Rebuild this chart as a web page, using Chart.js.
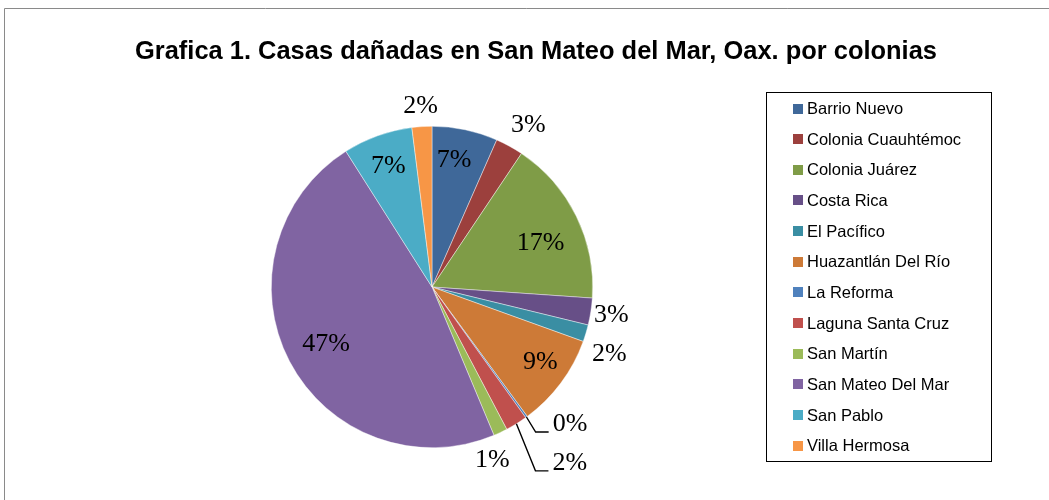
<!DOCTYPE html>
<html>
<head>
<meta charset="utf-8">
<script src="https://cdn.jsdelivr.net/npm/chart.js@4"></script>
<style>
html,body{margin:0;padding:0;background:#fff;overflow:hidden;}
canvas{display:block;}
</style>
</head>
<body>
<canvas id="c" width="1049" height="500"></canvas>
<script>
const titleText = 'Grafica 1. Casas dañadas en San Mateo del Mar, Oax. por colonias';
const categories = ['Barrio Nuevo','Colonia Cuauhtémoc','Colonia Juárez','Costa Rica','El Pacífico','Huazantlán Del Río','La Reforma','Laguna Santa Cruz','San Martín','San Mateo Del Mar','San Pablo','Villa Hermosa'];
const values = [6.6, 2.8, 16.7, 2.7, 1.7, 9.4, 0.2, 2.2, 1.4, 47.3, 7.0, 2.0];
const colors = ['#3F6899','#9C403D','#7F9C47','#674F87','#3A8EA3','#CD7A37','#4F81BD','#C0504D','#9BBB59','#8064A2','#4BACC6','#F79646'];

// label layout (radius factor, angle offset in degrees, leader line)
const labelK = [0.8, 1.17, 0.73, 1.13, 1.18, 0.82, 1.21, 1.39, 1.14, 0.75, 0.8, 1.13];
const labelOff = [-2, 2, 4, 0, 4, -2, -9.2, -6.4, 6, -1, 0, 0];
const labelLeader = [false,false,false,false,false,false,true,true,false,false,false,false];

const framePlugin = {
  id:'frame',
  beforeDraw(chart){
    const ctx = chart.ctx;
    ctx.save();
    ctx.fillStyle = '#fff';
    ctx.fillRect(0,0,chart.width,chart.height);
    ctx.strokeStyle = '#8a8a8a';
    ctx.lineWidth = 1;
    ctx.beginPath();
    ctx.moveTo(4.5, chart.height);
    ctx.lineTo(4.5, 8.5);
    ctx.lineTo(chart.width, 8.5);
    ctx.stroke();
    ctx.restore();
  }
};

// draw text at a given font size, squeezed horizontally to a target width
function drawFitted(ctx, text, x, y, font, targetW, align){
  ctx.font = font;
  const w = ctx.measureText(text).width;
  const sx = Math.min(1, targetW / w);
  ctx.save();
  ctx.translate(x, y);
  ctx.scale(sx, 1);
  ctx.textAlign = align;
  ctx.fillText(text, 0, 0);
  ctx.restore();
  return sx;
}

const titlePlugin = {
  id:'ttl',
  afterDraw(chart){
    const ctx = chart.ctx;
    ctx.save();
    ctx.fillStyle = '#000';
    ctx.textBaseline = 'alphabetic';
    drawFitted(ctx, titleText, 536, 59, 'bold 26px "Liberation Sans",Arial,sans-serif', 802, 'center');
    ctx.restore();
  }
};

const legendPlugin = {
  id:'lgd',
  afterDraw(chart){
    const ctx = chart.ctx;
    ctx.save();
    ctx.strokeStyle = '#000';
    ctx.lineWidth = 1;
    ctx.strokeRect(766.5, 92.5, 225, 369);
    const font = '16.5px "Liberation Sans",Arial,sans-serif';
    ctx.font = font;
    const longest = Math.max(...chart.data.labels.map(l => ctx.measureText(l).width));
    const sx = Math.min(1, 156 / longest);
    ctx.textBaseline = 'middle';
    const ds = chart.data.datasets[0];
    chart.data.labels.forEach((lab, i) => {
      const cy = 108.5 + i * 30.65;
      ctx.fillStyle = ds.backgroundColor[i];
      ctx.fillRect(793, Math.round(cy - 5), 10, 10);
      ctx.fillStyle = '#000';
      ctx.save();
      ctx.translate(807, cy + 1);
      ctx.scale(sx, 1);
      ctx.textAlign = 'left';
      ctx.font = font;
      ctx.fillText(lab, 0, 0);
      ctx.restore();
    });
    ctx.restore();
  }
};

const labelPlugin = {
  id:'pct',
  afterDatasetsDraw(chart){
    const ctx = chart.ctx;
    const meta = chart.getDatasetMeta(0);
    const data = chart.data.datasets[0].data;
    const sum = data.reduce((a,b)=>a+b,0);
    ctx.save();
    ctx.font = '26px "Liberation Serif","Times New Roman",serif';
    ctx.fillStyle = '#000';
    ctx.textAlign = 'center';
    ctx.textBaseline = 'middle';
    meta.data.forEach((arc, i) => {
      const mid = (arc.startAngle + arc.endAngle) / 2;
      const a = mid + labelOff[i] * Math.PI / 180;
      const r = arc.outerRadius;
      const tx = arc.x + Math.cos(a) * r * labelK[i];
      const ty = arc.y + Math.sin(a) * r * labelK[i];
      const txt = Math.round(data[i] / sum * 100) + '%';
      if (labelLeader[i]) {
        const tw = ctx.measureText(txt).width;
        const ex = arc.x + Math.cos(mid) * r;
        const ey = arc.y + Math.sin(mid) * r;
        const left = tx - tw / 2;
        ctx.strokeStyle = '#000';
        ctx.lineWidth = 1.4;
        ctx.beginPath();
        ctx.moveTo(ex, ey);
        ctx.lineTo(left - 17, ty + 8);
        ctx.lineTo(left - 4, ty + 8);
        ctx.stroke();
      }
      ctx.fillText(txt, tx, ty);
    });
    ctx.restore();
  }
};

new Chart(document.getElementById('c'), {
  type: 'pie',
  data: {
    labels: categories,
    datasets: [{
      data: values,
      backgroundColor: colors,
      borderColor: 'rgba(255,255,255,0.7)',
      borderWidth: 0.6
    }]
  },
  options: {
    responsive: false,
    animation: false,
    devicePixelRatio: 1,
    layout: { padding: { top: 126, bottom: 52, left: 232, right: 417 } },
    plugins: {
      legend: { display: false },
      title: { display: false },
      tooltip: { enabled: false }
    }
  },
  plugins: [framePlugin, labelPlugin, legendPlugin, titlePlugin]
});
</script>
</body>
</html>
